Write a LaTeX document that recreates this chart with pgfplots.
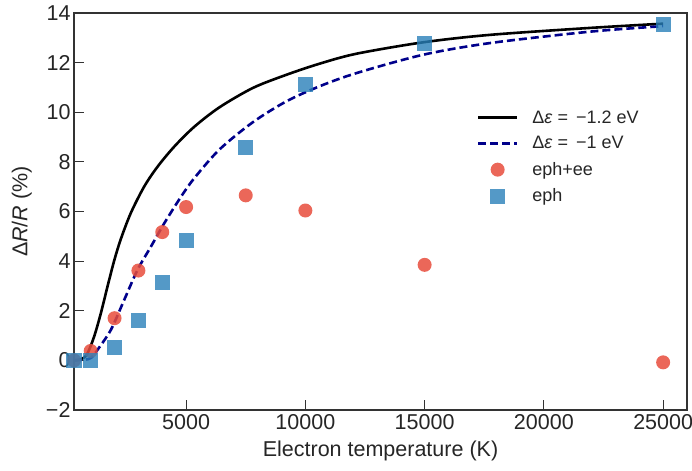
\documentclass[border=0pt]{standalone}
\usepackage{fontspec}
\setmainfont{Liberation Sans}
\usepackage{pgfplots}
\pgfplotsset{compat=1.18}
\definecolor{txt}{HTML}{262626}
\definecolor{frame}{HTML}{333333}
\definecolor{cred}{RGB}{231,76,60}
\definecolor{cblue}{RGB}{41,128,185}
\definecolor{navy}{RGB}{0,0,139}
\pgfplotsset{
  lineleg/.style={legend image code/.code={\draw[##1] (0bp,0bp) -- (39bp,0bp);}},
  markleg/.style={legend image code/.code={\draw[##1] plot coordinates {(19.5bp,0bp)};}},
}
\begin{document}
\begin{tikzpicture}
\begin{axis}[
  scale only axis,
  width=613bp, height=397bp,
  xmin=300, xmax=26000, ymin=-2, ymax=14,
  scaled x ticks=false,
  axis line style={frame, line width=1.4bp},
  xtick={5000,10000,15000,20000,25000},
  xticklabels={5000,10000,15000,20000,25000},
  ytick={-2,0,2,4,6,8,10,12,14},
  yticklabels={−2,0,2,4,6,8,10,12,14},
  tick align=inside,
  xtick pos=bottom, ytick pos=left,
  major tick length=10bp,
  tick style={frame, line width=1.2bp},
  tick label style={font=\fontsize{21.5bp}{25bp}\selectfont, text=txt},
  xticklabel style={yshift=-1bp},
  label style={font=\fontsize{21.5bp}{25bp}\selectfont, text=txt},
  xlabel={Electron temperature (K)},
  ylabel={Δ\textit{R}/\textit{R} (\%)},
  xlabel style={at={(axis description cs:0.5,-0.068)}, anchor=north},
  ylabel style={at={(axis description cs:-0.063,0.5)}, anchor=south},
  legend cell align=left,
  legend style={draw=none, fill=none, at={(0.652,0.765)}, anchor=north west,
    font=\fontsize{18bp}{22bp}\selectfont, text=txt, row sep=8bp, column sep=12bp},
  clip=true,
]
\addplot[black, line width=2.6bp, smooth, tension=0.5, lineleg]
coordinates {
 (300,0) (600,0.05) (850,0.25) (1144,0.96) (1426,1.90) (1703,2.97) (1985,4.02)
 (2267,4.9) (2687,5.95) (3246,7.01) (3806,7.81) (4508,8.62) (5349,9.42)
 (6400,10.2) (7801,10.98) (9205,11.51) (10606,11.96) (12149,12.36)
 (14950,12.82) (17754,13.12) (21960,13.40) (25000,13.57)
};
\addlegendentry{Δ\textit{ε} = \,−1.2 eV}
\addplot[navy, line width=2.6bp, dash pattern=on 8bp off 4bp, smooth, tension=0.5, lineleg]
coordinates {
 (300,0) (900,0.05) (1100,0.18) (1283,0.42) (1846,1.23) (2406,2.44) (2965,3.65)
 (3528,4.59) (4087,5.53) (4790,6.6) (5349,7.35) (6400,8.5)
 (7801,9.6) (9205,10.44) (10606,11.05) (12149,11.58) (14950,12.32)
 (17754,12.79) (21960,13.25) (25000,13.47)
};
\addlegendentry{Δ\textit{ε} = \,−1 eV}
\addplot[only marks, mark=*, mark size=7bp, markleg,
  mark options={draw=cred, draw opacity=0, fill=cred, fill opacity=0.85}]
coordinates {
 (300,0.0) (1000,0.38) (2000,1.70) (3000,3.62) (4000,5.17) (5000,6.18)
 (7500,6.65) (10000,6.04) (15000,3.85) (25000,-0.08)
};
\addlegendentry{eph+ee}
\addplot[only marks, mark=square*, mark size=7.5bp, markleg,
  mark options={draw=cblue, draw opacity=0, fill=cblue, fill opacity=0.8}]
coordinates {
 (300,0.0) (1000,0.0) (2000,0.53) (3000,1.60) (4000,3.13) (5000,4.83)
 (7500,8.56) (10000,11.1) (15000,12.79) (25000,13.53)
};
\addlegendentry{eph}
\end{axis}
\pgfresetboundingbox
\path[use as bounding box] (-74bp,-61bp) rectangle (618bp,410bp);
\end{tikzpicture}
\end{document}
